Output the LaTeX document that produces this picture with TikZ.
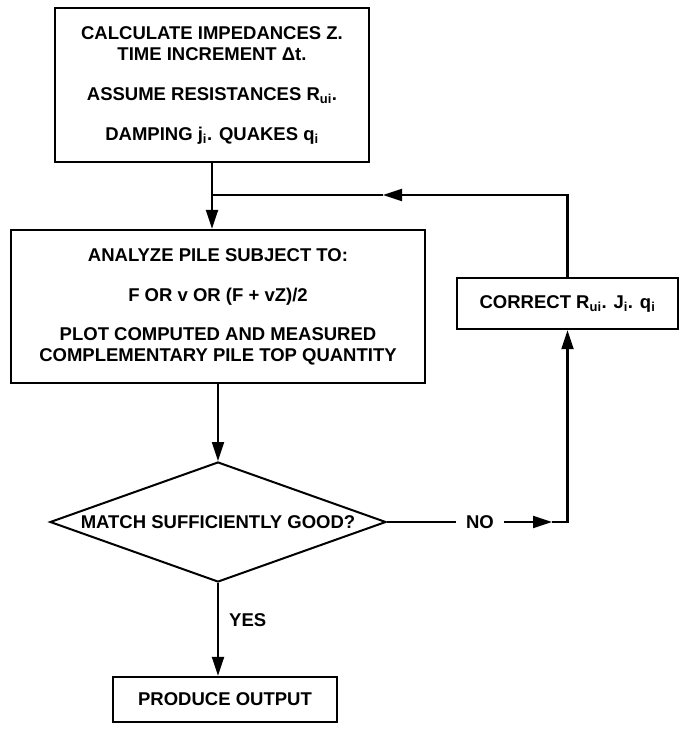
\documentclass[tikz,border=0pt]{standalone}
\usepackage{fontspec}
\setmainfont{Liberation Sans}
\usepackage{tikz}
\usetikzlibrary{shapes.geometric, arrows.meta}

\begin{document}
\begin{tikzpicture}[x=1pt, y=-1pt,
        box/.style = {draw, line width=2.4pt, inner sep=0pt, align=center,
                font=\fontsize{18.5}{21}\selectfont\bfseries},
        decision/.style = {draw, diamond, line width=2pt, inner sep=0pt,
                aspect=3.2, font=\fontsize{18.5}{21}\selectfont\bfseries},
        word/.style = {inner sep=0pt, font=\fontsize{18.5}{21}\selectfont\bfseries},
        line/.style = {line width=2.2pt},
        >={Triangle[length=19pt, width=12pt]}]
                \useasboundingbox (0, 0) rectangle (684, 732);

                \node[box, minimum width=314, minimum height=154] at (212, 85) (calc)
                        {CALCULATE IMPEDANCES Z.\\ TIME INCREMENT Δt.\\[19pt]
                        ASSUME RESISTANCES R\textsubscript{ui}.\\[19pt]
                        DAMPING j\textsubscript{i}. QUAKES q\textsubscript{i}};
                \node[box, minimum width=414, minimum height=153] at (218, 306.5) (analyze)
                        {ANALYZE PILE SUBJECT TO:\\[19pt]
                        F OR v OR (F + vZ)/2\\[18pt]
                        PLOT COMPUTED AND MEASURED\\ COMPLEMENTARY PILE TOP QUANTITY};
                \node[box, minimum width=221, minimum height=51] at (567.5, 303.5) (correct)
                        {CORRECT R\textsubscript{ui}. J\textsubscript{i}. q\textsubscript{i}};
                \node[decision, minimum width=336, minimum height=120] at (218, 522) (match)
                        {MATCH SUFFICIENTLY GOOD?};
                \node[box, minimum width=224, minimum height=45] at (225, 699.5) (output)
                        {PRODUCE OUTPUT};
                \node[word, inner xsep=10pt] at (480, 522) (no) {NO};
                \node[word, anchor=west] at (229, 620) (yes) {YES};

                \coordinate (jn) at (212, 195);
                \coordinate (fbarrow) at (383, 195);
                \coordinate (noarrow) at (552, 522);

                \draw [line, ->] (calc.south) -- (calc.south |- analyze.north);
                \draw [line, ->] (analyze.south -| match.north) -- (match.north);
                \draw [line, ->] (match.south) -- (match.south |- output.north);
                \draw [line] (match.east) -- (no.west);
                \draw [line, ->] (no.east) -- (noarrow);
                \draw [line, ->] (noarrow) -| (correct.south);
                \draw [line, ->] (correct.north) |- (fbarrow);
                \draw [line] (fbarrow) -- (jn);
\end{tikzpicture}
\end{document}
